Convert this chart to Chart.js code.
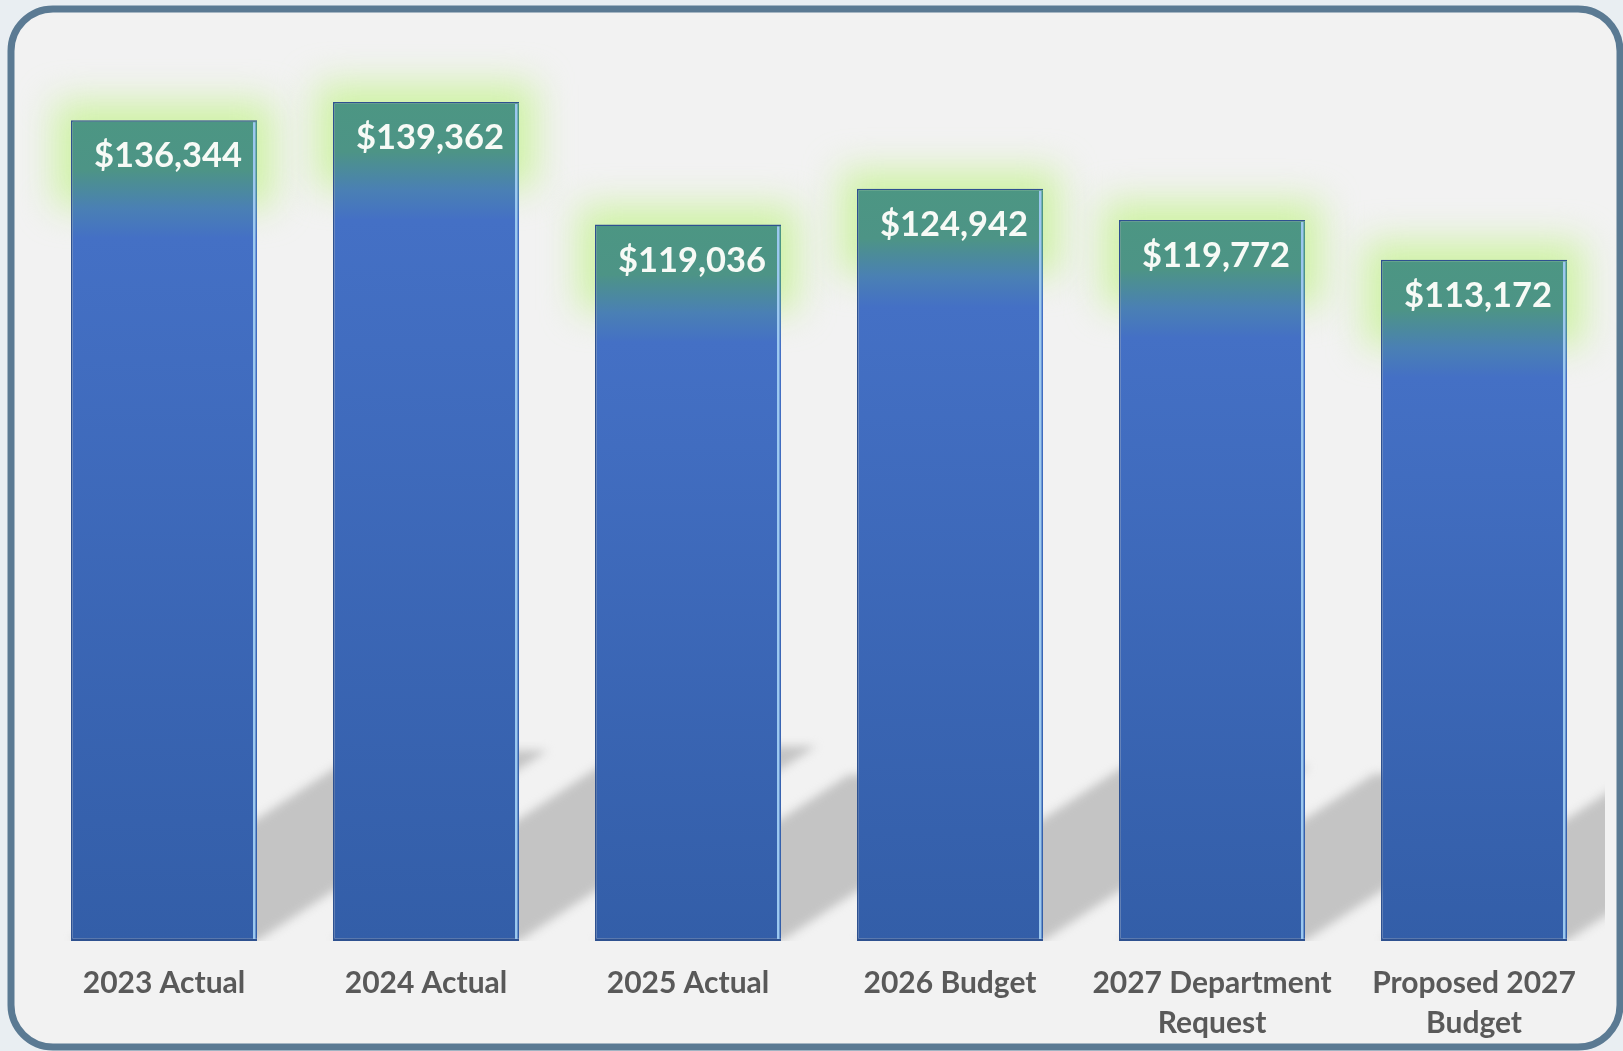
<!DOCTYPE html>
<html>
<head>
<meta charset="utf-8">
<title>Budget History</title>
<script src="https://cdn.jsdelivr.net/npm/chart.js@4.4.1/dist/chart.umd.min.js"></script>
<style>
    html, body { margin: 0; padding: 0; background: #e9eef2; }
    #wrap { width: 1623px; height: 1051px; }
</style>
</head>
<body>
<div id="wrap"><canvas id="budgetChart" width="1623" height="1051"></canvas></div>
<script>
// Budget totals by year
const categories = [
    '2023 Actual',
    '2024 Actual',
    '2025 Actual',
    '2026 Budget',
    ['2027 Department', 'Request'],
    ['Proposed 2027', 'Budget']
];
const budgetValues = [136344, 139362, 119036, 124942, 119772, 113172];
const axisMax = 150000;

const formatDollars = v => '$' + v.toLocaleString('en-US');

// Blue bar fill, teal where the glow sits at the top of each bar
const barGradient = (context) => {
    const chart = context.chart;
    const { chartArea, scales } = chart;
    if (!chartArea) return '#4472c4';
    const top = scales.y.getPixelForValue(context.raw);
    const base = scales.y.getPixelForValue(0);
    const h = Math.max(base - top, 1);
    const g = chart.ctx.createLinearGradient(0, top, 0, base);
    const at = px => Math.min(px / h, 1);
    g.addColorStop(0, '#4c9683');
    g.addColorStop(at(50), '#4d9486');
    g.addColorStop(at(88), '#4a80b4');
    g.addColorStop(at(118), '#4470c5');
    g.addColorStop(1, '#335ea8');
    return g;
};

// Rounded panel behind the chart
const panelPlugin = {
    id: 'panel',
    beforeDraw(chart) {
        const ctx = chart.ctx;
        const w = chart.width, h = chart.height;
        ctx.save();
        ctx.fillStyle = '#e9eef2';
        ctx.fillRect(0, 0, w, h);
        ctx.beginPath();
        ctx.roundRect(11, 9, w - 14, h - 13, 42);
        ctx.fillStyle = '#f2f2f2';
        ctx.fill();
        ctx.lineWidth = 7;
        ctx.strokeStyle = '#5b7a93';
        ctx.stroke();
        ctx.restore();
    }
};

// Floor shadows and green glow drawn before the bars, edge highlight and value labels after
const barEffectsPlugin = {
    id: 'barEffects',
    beforeDatasetsDraw(chart) {
        const ctx = chart.ctx;
        const area = chart.chartArea;
        const bars = chart.getDatasetMeta(0).data;

        ctx.save();
        ctx.beginPath();
        ctx.rect(area.left - 40, 0, area.right - area.left + 40, area.bottom);
        ctx.clip();
        ctx.filter = 'blur(5px)';
        ctx.fillStyle = '#c4c4c4';
        bars.forEach(bar => {
            const { x, y, base, width } = bar.getProps(['x', 'y', 'base', 'width'], true);
            const l = x - width / 2, r = x + width / 2;
            const hgt = base - y;
            const dx = hgt * 0.354, dy = hgt * 0.232;
            ctx.beginPath();
            ctx.moveTo(l, base);
            ctx.lineTo(r, base);
            ctx.lineTo(r + dx, base - dy);
            ctx.lineTo(l + dx, base - dy);
            ctx.closePath();
            ctx.fill();
        });
        ctx.restore();

        ctx.save();
        ctx.filter = 'blur(18px)';
        ctx.fillStyle = 'rgba(204, 242, 160, 0.95)';
        bars.forEach(bar => {
            const { x, y, width } = bar.getProps(['x', 'y', 'width'], true);
            ctx.fillRect(x - width / 2 - 16, y - 18, width + 32, 104);
        });
        ctx.restore();
    },
    afterDatasetsDraw(chart) {
        const ctx = chart.ctx;
        const meta = chart.getDatasetMeta(0);
        ctx.save();
        meta.data.forEach((bar, i) => {
            const { x, y, base, width } = bar.getProps(['x', 'y', 'base', 'width'], true);
            const r = x + width / 2;
            // light edge on the right side
            ctx.fillStyle = '#9cc8ef';
            ctx.fillRect(r - 4, y + 2, 2.5, base - y - 4);
            // value label
            ctx.fillStyle = '#f7faf6';
            ctx.font = 'bold 34.5px Lato, "Open Sans", sans-serif';
            ctx.textAlign = 'center';
            ctx.textBaseline = 'middle';
            ctx.fillText(formatDollars(budgetValues[i]), x + 4, y + 36);
        });
        ctx.restore();
    }
};

const ctx = document.getElementById('budgetChart').getContext('2d');
const budgetChart = new Chart(ctx, {
    type: 'bar',
    data: {
        labels: categories,
        datasets: [{
            data: budgetValues,
            backgroundColor: barGradient,
            borderColor: '#2e5190',
            borderWidth: { left: 1.5, top: 1.5, bottom: 2.5, right: 0 },
            borderSkipped: false,
            categoryPercentage: 1,
            barPercentage: 0.71
        }]
    },
    options: {
        responsive: false,
        animation: false,
        layout: { padding: { left: 33, right: 18, top: 38, bottom: 8 } },
        plugins: {
            legend: { display: false },
            tooltip: { enabled: false }
        },
        scales: {
            x: {
                grid: { display: false, drawTicks: false },
                border: { display: false },
                afterFit(scale) { scale.height = 102; },
                ticks: {
                    color: '#595959',
                    padding: 22,
                    maxRotation: 0,
                    autoSkip: false,
                    font: { family: 'Lato, "Open Sans", sans-serif', size: 30, weight: 'bold', lineHeight: 1.35 }
                }
            },
            y: {
                display: false,
                min: 0,
                max: axisMax
            }
        }
    },
    plugins: [panelPlugin, barEffectsPlugin]
});
</script>
</body>
</html>
